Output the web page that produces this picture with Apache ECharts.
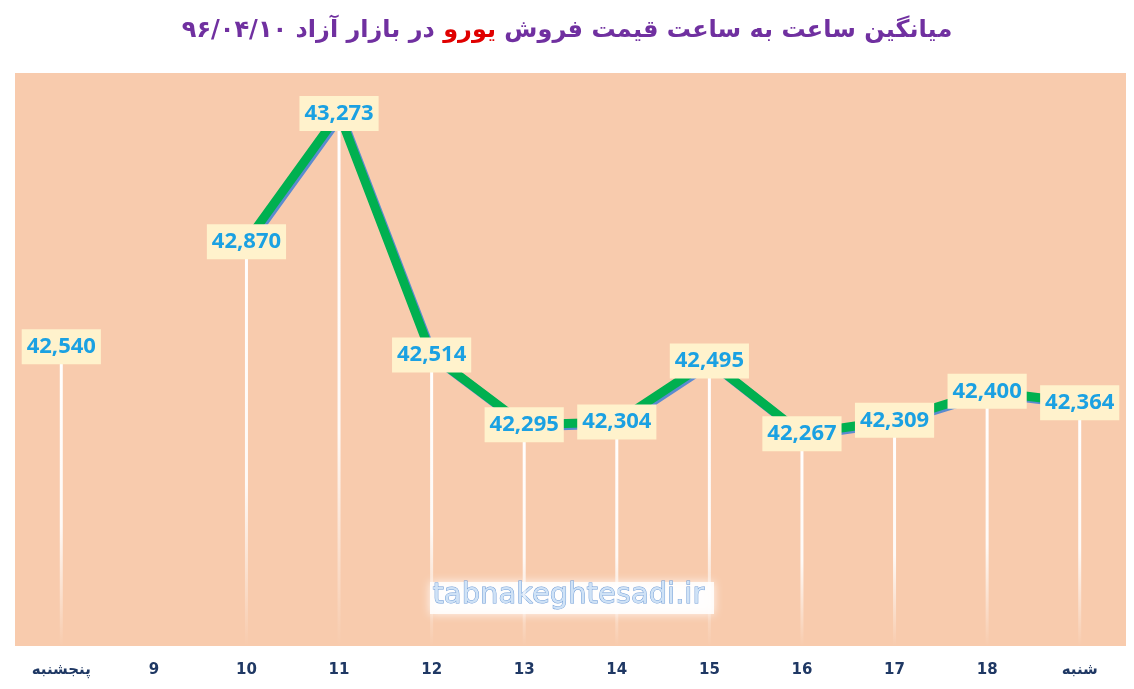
<!DOCTYPE html>
<html>
<head>
    <meta charset="UTF-8">
    <title>میانگین ساعت به ساعت قیمت فروش یورو</title>
    <script src="https://cdn.jsdelivr.net/npm/echarts@6/dist/echarts.min.js"></script>
</head>
<body style="margin:0">
<div id="chart" style="width: 1134px; height: 689px"></div>
<script>
    var hours = ['پنجشنبه', '9', '10', '11', '12', '13', '14', '15', '16', '17', '18', 'شنبه'];
    // قیمت یورو (ساعت 9 داده ندارد)
    var prices = [42540, null, 42870, 43273, 42514, 42295, 42304, 42495, 42267, 42309, 42400, 42364];
    var yMin = 41600, yMax = 43400;

    var myChart = echarts.init(document.getElementById('chart'));

    var option = {
        backgroundColor: '#fff',
        title: {
            text: '{a|در بازار آزاد ۹۶/۰۴/۱۰ }{b|یورو}{a| میانگین ساعت به ساعت قیمت فروش}',
            left: 'center',
            top: 14,
            textStyle: {
                rich: {
                    a: {color: '#7030A0', fontSize: 24, fontWeight: 'bold', fontFamily: 'DejaVu Sans'},
                    b: {color: '#E00000', fontSize: 24, fontWeight: 'bold', fontFamily: 'DejaVu Sans'}
                }
            }
        },
        grid: {left: 15, right: 8, top: 73, bottom: 43},
        xAxis: {
            type: 'category',
            data: hours,
            axisLine: {show: false},
            axisTick: {show: false},
            axisLabel: {
                margin: 17,
                color: '#1F3864',
                fontWeight: 'bold',
                fontSize: 15,
                fontFamily: 'DejaVu Sans'
            }
        },
        yAxis: {
            type: 'value',
            min: yMin,
            max: yMax,
            show: false,
            splitLine: {show: false}
        },
        graphic: [
            {
                type: 'rect',
                shape: {x: 15, y: 73, width: 1111, height: 573},
                style: {fill: '#F8CBAD'},
                z: -10
            },
            {
                type: 'rect',
                shape: {x: 430, y: 582, width: 284, height: 32},
                style: {fill: 'rgba(255,255,255,0.85)', shadowBlur: 10, shadowColor: '#fff'},
                z: 1
            },
            {
                type: 'text',
                left: 432,
                top: 580,
                style: {
                    text: 'tabnakeghtesadi.ir',
                    font: '29px "DejaVu Sans"',
                    fill: '#CFE2F6',
                    stroke: '#6E9BD6',
                    lineWidth: 1
                },
                z: 2
            }
        ],
        series: [
            {
                type: 'bar',
                data: prices,
                barWidth: 3,
                silent: true,
                itemStyle: {
                    color: new echarts.graphic.LinearGradient(0, 0, 0, 1, [
                        {offset: 0, color: 'rgba(255,255,255,1)'},
                        {offset: 0.6, color: 'rgba(255,255,255,0.9)'},
                        {offset: 1, color: 'rgba(255,255,255,0)'}
                    ])
                },
                z: 2
            },
            {
                type: 'line',
                data: prices,
                connectNulls: false,
                symbol: 'circle',
                symbolSize: 1,
                itemStyle: {color: 'rgba(0,0,0,0)'},
                lineStyle: {
                    color: '#00B050',
                    width: 9,
                    shadowColor: '#5B8BD0',
                    shadowBlur: 0,
                    shadowOffsetX: 2,
                    shadowOffsetY: 2
                },
                label: {
                    show: true,
                    position: 'inside',
                    formatter: function (p) {
                        return p.value.toLocaleString('en-US');
                    },
                    backgroundColor: '#FFF2CC',
                    color: '#1BA1E2',
                    fontWeight: 'bold',
                    fontSize: 22,
                    fontFamily: 'Open Sans',
                    padding: [7, 5, 6, 5]
                },
                z: 3
            }
        ]
    };
    myChart.setOption(option);
</script>
</body>
</html>
